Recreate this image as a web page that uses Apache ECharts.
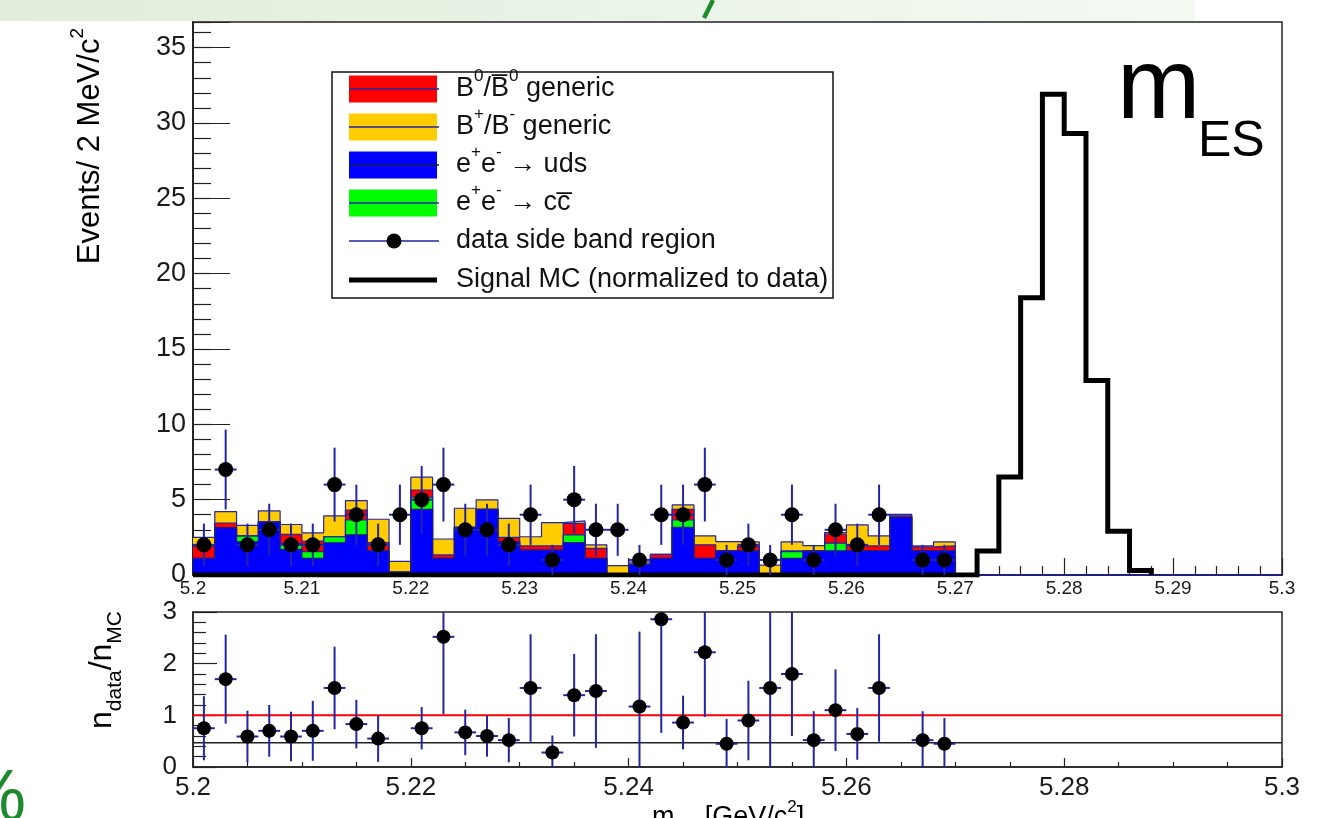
<!DOCTYPE html>
<html>
<head>
<meta charset="utf-8">
<script src="https://cdn.jsdelivr.net/npm/echarts@6/dist/echarts.min.js"></script>
<style>
html,body{margin:0;padding:0;background:#ffffff;}
#chart{width:1331px;height:818px;}
</style>
</head>
<body>
<div id="chart"></div>
<script>
// ---------------- data ----------------
const binStart = 5.2;      // GeV/c^2
const binWidth = 0.002;    // 2 MeV/c^2

// MC backgrounds per bin (not cumulative), 50 bins from 5.200 to 5.300
const mcUds   = [1.10,3.15,2.20,3.50,1.70,1.10,2.14,2.66,1.61,0.20, 4.36,1.10,3.17,4.36,2.20,1.66,1.66,2.15,1.10,0.00, 0.70,1.10,3.17,1.10,1.61,1.60,0.00,1.10,1.61,1.61, 1.61,1.61,3.83,1.61,1.61,0,0,0,0,0, 0,0,0,0,0,0,0,0,0,0];
const mcCcbar = [0.00,0.00,0.40,0.00,0.40,0.45,0.40,1.00,0.00,0.00, 0.80,0.00,0.00,0.00,0.00,0.00,0.00,0.51,0.00,0.00, 0.00,0.00,0.48,0.00,0.00,0.00,0.00,0.45,0.00,0.50, 0.00,0.00,0.00,0.00,0.00,0,0,0,0,0, 0,0,0,0,0,0,0,0,0,0];
const mcB0    = [0.80,0.30,0.00,0.05,0.60,0.70,0.00,0.65,0.54,0.00, 0.48,0.23,0.00,0.00,0.30,0.27,0.27,0.77,0.67,0.00, 0.00,0.27,0.71,0.90,0.00,0.30,0.00,0.05,0.00,0.60, 0.32,0.32,0.10,0.25,0.32,0,0,0,0,0, 0,0,0,0,0,0,0,0,0,0];
const mcBpm   = [0.60,0.75,0.70,0.70,0.65,0.55,1.38,0.62,1.55,0.70, 0.85,1.06,1.26,0.62,1.26,0.61,1.54,0.16,0.23,0.62, 0.15,0.00,0.29,0.60,0.60,0.30,0.65,0.60,0.34,0.10, 1.39,0.66,0.10,0.07,0.27,0,0,0,0,0, 0,0,0,0,0,0,0,0,0,0];

// data side band (per bin), with error bars
const dataSideBand = [2,7,2,3,2,2,6,4,2,4, 5,6,3,3,2,4,1,5,3,3, 1,4,4,6,1,2,1,4,1,3, 2,4,null,1,1,null,null,null,null,null, null,null,null,null,null,null,null,null,null,null];
const dataErr      = [1.41,2.65,1.41,1.73,1.41,1.41,2.45,2.00,1.41,2.00, 2.24,2.45,1.73,1.73,1.41,2.00,1.00,2.24,1.73,1.73, 1.00,2.00,2.00,2.45,1.00,1.41,1.00,2.00,1.00,1.73, 1.41,2.00,null,1.00,1.00,null,null,null,null,null, null,null,null,null,null,null,null,null,null,null];

// signal MC (normalized to data), bins 0..43
const signalMC = [0,0,0,0,0,0,0,0,0,0, 0,0,0,0,0,0,0,0,0,0, 0,0,0,0,0,0,0,0,0,0, 0,0,0,0,0,0,1.6,6.5,18.4,31.9, 29.3,12.9,2.9,0.3];

// ratio panel n_data / n_MC
const ratioVal = [0.75,1.70,0.59,0.70,0.59,0.70,1.53,0.83,0.55,null, 0.75,2.52,0.67,0.60,0.52,1.53,0.28,1.39,1.47,null, 1.17,2.86,0.86,2.22,0.45,0.90,1.53,1.80,0.52,1.10, 0.64,1.53,null,0.52,0.45,null,null,null,null,null, null,null,null,null,null,null,null,null,null,null];
const ratioErr = [0.62,0.86,0.50,0.50,0.48,0.58,0.80,0.47,0.45,null, 0.41,1.50,0.44,0.40,0.43,1.04,0.33,0.80,1.10,null, 1.45,2.20,0.52,1.25,0.48,0.77,1.60,1.20,0.56,0.79, 0.50,1.04,null,0.56,0.50,null,null,null,null,null, null,null,null,null,null,null,null,null,null,null];
const ratioUnity = 1.0;
const ratioMean = 0.47;

// axis ranges
const xRange = [5.2, 5.3];
const mainYMax = 36.7;
const ratioYMax = 3;

// ---------------- helpers ----------------
const FONT = "'Liberation Sans', Arial, Helvetica, sans-serif";
const ERR_BLUE = '#2424a6';
const edge = i => +(binStart + i * binWidth).toFixed(3);
const center = i => +(binStart + (i + 0.5) * binWidth).toFixed(4);
const stepData = arr => arr.map((v, i) => [edge(i), v]).concat([[edge(arr.length), arr[arr.length - 1]]]);

// cumulative stack levels (ROOT THStack draws the sums, largest first)
const cumUds = mcUds.slice();
const cumCc  = cumUds.map((v, i) => v + mcCcbar[i]);
const cumB0  = cumCc.map((v, i) => v + mcB0[i]);
const cumAll = cumB0.map((v, i) => v + mcBpm[i]);

function stackLayer(name, arr, fill, lineColor, z) {
  return {
    name: name, type: 'line', step: 'end',
    xAxisIndex: 0, yAxisIndex: 0,
    data: stepData(arr), symbol: 'none', silent: true,
    lineStyle: { color: lineColor, width: 1.2 },
    areaStyle: { color: fill, opacity: 1, origin: 'start' },
    z: z
  };
}

const signalPts = signalMC.map((v, i) => [edge(i), v]).concat([[edge(signalMC.length), 0]]);

const dataPts = [];
dataSideBand.forEach((v, i) => { if (v != null) dataPts.push([center(i), v, dataErr[i]]); });
const ratioPts = [];
ratioVal.forEach((v, i) => { if (v != null) ratioPts.push([center(i), v, ratioErr[i]]); });

function errRender(yMin, yMax) {
  return function (params, api) {
    const x = api.value(0), y = api.value(1), e = api.value(2);
    const hi = Math.min(yMax, y + e), lo = Math.max(yMin, y - e);
    const pT = api.coord([x, hi]), pB = api.coord([x, lo]);
    const pL = api.coord([x - binWidth / 2, y]), pR = api.coord([x + binWidth / 2, y]);
    const st = { stroke: ERR_BLUE, lineWidth: 2 };
    return { type: 'group', children: [
      { type: 'line', shape: { x1: pT[0], y1: pT[1], x2: pB[0], y2: pB[1] }, style: st },
      { type: 'line', shape: { x1: pL[0], y1: pL[1], x2: pR[0], y2: pR[1] }, style: st }
    ]};
  };
}

const axisLineStyle = { show: true, lineStyle: { color: '#222', width: 1.5 } };
const labelBase = { color: '#1a1a1a', fontFamily: FONT };

// rich text styles: b = base, p = superscript, s = subscript
function richSet(F, f, L) {
  return {
    b: { fontSize: F, lineHeight: L, verticalAlign: 'middle', fontFamily: FONT, color: '#111' },
    p: { fontSize: f, lineHeight: f, verticalAlign: 'top', fontFamily: FONT, color: '#111' },
    s: { fontSize: f, lineHeight: f, verticalAlign: 'bottom', fontFamily: FONT, color: '#111' }
  };
}

// ---------------- legend graphic ----------------
const legRows = [89, 127, 165, 203, 241, 280];
const legX0 = 349, legW = 90, textX = 456;
const legendGraphics = [
  { type: 'rect', shape: { x: 332, y: 72, width: 501, height: 226 }, style: { fill: '#fff', stroke: '#111', lineWidth: 1.5 }, z: 100 }
];
const legFills = ['#ff0000', '#ffcc00', '#0000ff', '#00ff00'];
const legLines = [ERR_BLUE, ERR_BLUE, '#1a1a55', ERR_BLUE];
const legTexts = [
  '{b|B}{p|0}{b|/B\u0305}{p|0}{b| generic}',
  '{b|B}{p|+}{b|/B}{p|-}{b| generic}',
  '{b|e}{p|+}{b|e}{p|-}{b| \u2192 uds}',
  '{b|e}{p|+}{b|e}{p|-}{b| \u2192 cc\u0305}',
  '{b|data side band region}',
  '{b|Signal MC (normalized to data)}'
];
for (let k = 0; k < 4; k++) {
  const cy = legRows[k];
  legendGraphics.push({ type: 'rect', shape: { x: legX0, y: cy - 13.5, width: 88, height: 27 }, style: { fill: legFills[k] }, z: 101 });
  legendGraphics.push({ type: 'line', shape: { x1: legX0, y1: cy, x2: legX0 + legW, y2: cy }, style: { stroke: legLines[k], lineWidth: 1.5 }, z: 102 });
}
legendGraphics.push({ type: 'line', shape: { x1: legX0, y1: legRows[4], x2: legX0 + legW, y2: legRows[4] }, style: { stroke: ERR_BLUE, lineWidth: 1.5 }, z: 102 });
legendGraphics.push({ type: 'circle', shape: { cx: legX0 + 45, cy: legRows[4], r: 7.5 }, style: { fill: '#000' }, z: 103 });
legendGraphics.push({ type: 'line', shape: { x1: legX0, y1: legRows[5], x2: legX0 + 88, y2: legRows[5] }, style: { stroke: '#000', lineWidth: 5 }, z: 102 });
legTexts.forEach((t, k) => {
  legendGraphics.push({ type: 'text', x: textX, y: legRows[k], z: 103,
    style: { text: t, rich: richSet(27, 17, 42), align: 'left', verticalAlign: 'middle', fill: '#111' } });
});

// ---------------- other decoration ----------------
const decor = [
  { type: 'rect', shape: { x: 0, y: 0, width: 1195, height: 21 }, z: -10,
    style: { fill: { type: 'linear', x: 0, y: 0, x2: 1, y2: 0, colorStops: [ { offset: 0, color: '#e0eedb' }, { offset: 1, color: '#f4f9f2' } ] } } },
  { type: 'line', shape: { x1: 713, y1: 0, x2: 704, y2: 18 }, style: { stroke: '#1f8a2c', lineWidth: 4.5 }, z: -9 },
  { type: 'text', x: -38, y: 800, style: { text: '%', fontSize: 72, fontFamily: FONT, fill: '#1e8a30', align: 'left', verticalAlign: 'middle' } },
  // m_ES label
  { type: 'text', x: 1117, y: 90, style: { text: 'm', fontSize: 100, fontFamily: FONT, fill: '#000', align: 'left', verticalAlign: 'middle' } },
  { type: 'text', x: 1198, y: 142, style: { text: 'ES', fontSize: 50, fontFamily: FONT, fill: '#000', align: 'left', verticalAlign: 'middle' } },
  // main y title
  { type: 'text', x: 90, y: 28, rotation: Math.PI / 2,
    style: { text: '{b|Events/ 2 MeV/c}{p|2}', rich: richSet(31, 19, 44), align: 'right', verticalAlign: 'middle' } },
  // ratio y title
  { type: 'text', x: 102, y: 611, rotation: Math.PI / 2,
    style: { text: '{b|n}{s|data}{b|/n}{s|MC}', rich: richSet(32, 21, 48), align: 'right', verticalAlign: 'middle' } },
  // x title (mostly below the page edge)
  { type: 'text', x: 652, y: 818,
    style: { text: '{b|m}{s|ES}{b| [GeV/c}{p|2}{b|]}', rich: richSet(27, 17, 38), align: 'left', verticalAlign: 'middle' } }
];

// ---------------- option ----------------
const option = {
  animation: false,
  backgroundColor: '#ffffff',
  grid: [
    { left: 193, top: 22, width: 1089, height: 553, show: true, borderColor: '#222', borderWidth: 1.5, backgroundColor: 'transparent' },
    { left: 193, top: 612, width: 1089, height: 155, show: true, borderColor: '#222', borderWidth: 1.5, backgroundColor: 'transparent' }
  ],
  xAxis: [
    { type: 'value', gridIndex: 0, position: 'bottom', min: xRange[0], max: xRange[1], interval: 0.01,
      axisLine: axisLineStyle, splitLine: { show: false },
      axisTick: { show: true, inside: true, length: 17, lineStyle: { color: '#222', width: 1.2 } },
      minorTick: { show: true, splitNumber: 5, length: 9, lineStyle: { color: '#222', width: 1.2 } },
      axisLabel: Object.assign({ fontSize: 19, margin: 4 }, labelBase) },
    { type: 'value', gridIndex: 1, position: 'bottom', min: xRange[0], max: xRange[1], interval: 0.02,
      axisLine: axisLineStyle, splitLine: { show: false },
      axisTick: { show: true, inside: true, length: 9, lineStyle: { color: '#222', width: 1.2 } },
      minorTick: { show: true, splitNumber: 4, length: 5, lineStyle: { color: '#222', width: 1.2 } },
      axisLabel: Object.assign({ fontSize: 26, margin: 8 }, labelBase) }
  ],
  yAxis: [
    { type: 'value', gridIndex: 0, position: 'left', offset: 0, min: 0, max: mainYMax, interval: 1,
      axisLine: axisLineStyle, splitLine: { show: false },
      axisTick: { show: true, inside: true, length: 18, lineStyle: { color: '#222', width: 1.2 } },
      axisLabel: { show: false } },
    { type: 'value', gridIndex: 0, position: 'left', offset: 0, min: 0, max: mainYMax, interval: 5,
      axisLine: axisLineStyle, splitLine: { show: false },
      axisTick: { show: true, inside: true, length: 37, lineStyle: { color: '#222', width: 1.2 } },
      axisLabel: Object.assign({ fontSize: 27, margin: 7,
        formatter: v => (Math.abs(v / 5 - Math.round(v / 5)) < 1e-6 ? String(Math.round(v)) : '') }, labelBase) },
    { type: 'value', gridIndex: 1, position: 'left', min: 0, max: ratioYMax, interval: 1,
      axisLine: axisLineStyle, splitLine: { show: false },
      axisTick: { show: true, inside: true, length: 24, lineStyle: { color: '#222', width: 1.2 } },
      minorTick: { show: true, splitNumber: 5, length: 13, lineStyle: { color: '#222', width: 1.2 } },
      axisLabel: Object.assign({ fontSize: 26, margin: 16 }, labelBase) }
  ],
  series: [
    stackLayer('B+/B- generic', cumAll, '#ffcc00', ERR_BLUE, 2),
    stackLayer('B0/B0bar generic', cumB0, '#ff0000', ERR_BLUE, 2),
    stackLayer('ccbar', cumCc, '#00ff00', ERR_BLUE, 2),
    stackLayer('uds', cumUds, '#0000ff', '#1a1a80', 2),
    { name: 'Signal MC', type: 'line', step: 'end', xAxisIndex: 0, yAxisIndex: 0,
      data: signalPts, symbol: 'none', silent: true,
      lineStyle: { color: '#000', width: 5, join: 'miter', cap: 'butt' }, z: 4 },
    { name: 'data err', type: 'custom', xAxisIndex: 0, yAxisIndex: 0, data: dataPts,
      renderItem: errRender(0, mainYMax), encode: { x: 0, y: 1 }, z: 5, silent: true },
    { name: 'data', type: 'scatter', xAxisIndex: 0, yAxisIndex: 0,
      data: dataPts.map(p => [p[0], p[1]]), symbol: 'circle', symbolSize: 15,
      itemStyle: { color: '#000', opacity: 1 }, z: 6, silent: true },
    { name: 'unity', type: 'line', xAxisIndex: 1, yAxisIndex: 2,
      data: [[xRange[0], ratioUnity], [xRange[1], ratioUnity]], symbol: 'none',
      lineStyle: { color: '#ff0000', width: 2 }, z: 2, silent: true },
    { name: 'mean', type: 'line', xAxisIndex: 1, yAxisIndex: 2,
      data: [[xRange[0], ratioMean], [xRange[1], ratioMean]], symbol: 'none',
      lineStyle: { color: '#222', width: 1.5 }, z: 2, silent: true },
    { name: 'ratio err', type: 'custom', xAxisIndex: 1, yAxisIndex: 2, data: ratioPts,
      renderItem: errRender(0, ratioYMax), encode: { x: 0, y: 1 }, z: 5, silent: true },
    { name: 'ratio', type: 'scatter', xAxisIndex: 1, yAxisIndex: 2,
      data: ratioPts.map(p => [p[0], p[1]]), symbol: 'circle', symbolSize: 14,
      itemStyle: { color: '#000', opacity: 1 }, z: 6, silent: true }
  ],
  graphic: decor.concat(legendGraphics)
};

const chart = echarts.init(document.getElementById('chart'), null, { renderer: 'canvas' });
chart.setOption(option);
</script>
</body>
</html>
